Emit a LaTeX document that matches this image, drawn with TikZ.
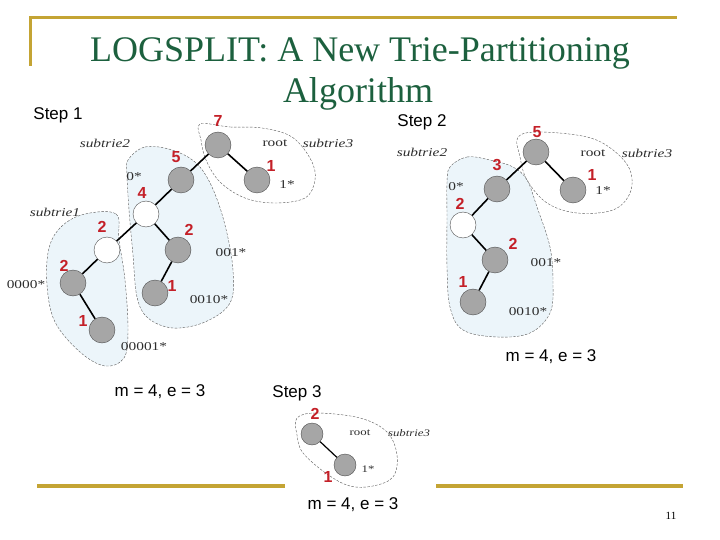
\documentclass[tikz,border=0pt]{standalone}
\usepackage{fontspec}
\setmainfont{Liberation Serif}
\setsansfont{Liberation Sans}
\newfontfamily\widefont[FakeStretch=1.28]{Liberation Serif}
\usepackage{tikz}
\usetikzlibrary{backgrounds}

\definecolor{titlegreen}{RGB}{28,96,62}
\definecolor{gold}{RGB}{196,164,52}
\definecolor{cntred}{RGB}{196,32,40}
\definecolor{blobblue}{RGB}{236,245,250}
\definecolor{labelgray}{RGB}{45,45,45}

\begin{document}
\begin{tikzpicture}[
    x=1pt, y=-1pt,
    filled/.style={circle, draw=black!70, fill=black!35, minimum size=26pt, inner sep=0pt},
    hollow/.style={circle, draw=black!70, fill=white, minimum size=26pt, inner sep=0pt},
    cnt/.style={text=cntred, font=\sffamily\bfseries\fontsize{16}{16}\selectfont, inner sep=0pt},
    lbl/.style={text=labelgray, font=\widefont\fontsize{12}{12}\selectfont, inner sep=0pt},
    sub/.style={text=labelgray, font=\widefont\itshape\fontsize{12}{12}\selectfont, inner sep=0pt},
    caption/.style={font=\sffamily\fontsize{17}{17}\selectfont, inner sep=0pt},
    blob/.style={draw=black!65, dash pattern=on 2.5pt off 1.5pt, thin, fill=#1},
    blob/.default=white,
    link/.style={line width=1.6pt}
]
    \useasboundingbox (0,0) rectangle (720,540);

    % Slide frame
    \draw[gold, line width=3pt] (30,66) -- (30,18) -- (677,18);
    \draw[gold, line width=4pt] (37,486) -- (285,486);
    \draw[gold, line width=4pt] (436,486) -- (683,486);

    % Title
    \node[text=titlegreen, font=\fontsize{36}{36}\selectfont, anchor=base] (title1) at (360,62) {LOGSPLIT: A New Trie-Partitioning};
    \node[text=titlegreen, font=\fontsize{36}{36}\selectfont, anchor=base] (title2) at (358,103) {Algorithm};

    % ---------------- Step 1 ----------------
    \node[caption] (step1) at (58,115) {Step 1};

    % subtries
    \draw[blob] plot[smooth cycle, tension=0.6] coordinates {(200,124) (230,127) (262,128) (292,137) (311,160) (315,180) (305,198) (275,203) (245,198) (220,182) (206,160) (201,140)};
    \draw[blob=blobblue] plot[smooth cycle, tension=0.6] coordinates {(128,160) (145,147) (172,150) (196,163) (212,187) (225,225) (233,270) (230,303) (205,322) (173,328) (148,318) (137,297) (133,255) (129,210) (127,175)};
    \draw[blob=blobblue] plot[smooth cycle, tension=0.6] coordinates {(85,214) (116,214) (119,240) (125,280) (128,330) (124,358) (105,366) (80,352) (55,322) (47,285) (49,248) (62,226)};

    % trie
    \node[filled] (aroot) at (218,145) {};
    \node[filled] (a1) at (257,180) {};
    \node[filled] (a0) at (181,180) {};
    \node[hollow] (a00) at (146,214) {};
    \node[hollow] (a000) at (107,250) {};
    \node[filled] (a0000) at (73,283) {};
    \node[filled] (a00001) at (102,330) {};
    \node[filled] (a001) at (178,250) {};
    \node[filled] (a0010) at (155,293) {};

    \draw[link] (aroot) -- (a1);
    \draw[link] (aroot) -- (a0);
    \draw[link] (a0) -- (a00);
    \draw[link] (a00) -- (a000);
    \draw[link] (a00) -- (a001);
    \draw[link] (a000) -- (a0000);
    \draw[link] (a0000) -- (a00001);
    \draw[link] (a001) -- (a0010);

    % counts
    \node[cnt] (na-root) at (218,121) {7};
    \node[cnt] (na1) at (271,166) {1};
    \node[cnt] (na0) at (176,157) {5};
    \node[cnt] (na00) at (142,193) {4};
    \node[cnt] (na000) at (102,227) {2};
    \node[cnt] (na001) at (189,230) {2};
    \node[cnt] (na0000) at (64,266) {2};
    \node[cnt] (na0010) at (172,286) {1};
    \node[cnt] (na00001) at (83,321) {1};

    % prefixes
    \node[sub] (la-sub2) at (105,143) {subtrie2};
    \node[lbl] (la-root) at (275,143) {root};
    \node[sub] (la-sub3) at (328,143) {subtrie3};
    \node[lbl] (la0) at (134,177) {0*};
    \node[sub] (la-sub1) at (55,212) {subtrie1};
    \node[lbl] (la1) at (287,185) {1*};
    \node[lbl] (la001) at (231,253) {001*};
    \node[lbl] (la0000) at (26,285) {0000*};
    \node[lbl] (la0010) at (209,300) {0010*};
    \node[lbl] (la00001) at (144,347) {00001*};

    \node[caption] (cap1) at (160,392) {m = 4, e = 3};

    % ---------------- Step 2 ----------------
    \node[caption] (step2) at (422,122) {Step 2};

    \draw[blob] plot[smooth cycle, tension=0.6] coordinates {(518,137) (540,132) (587,137) (613,150) (630,170) (630,193) (613,210) (577,213) (547,203) (527,180) (520,157)};
    \draw[blob=blobblue] plot[smooth cycle, tension=0.6] coordinates {(450,167) (467,157) (490,160) (513,167) (527,180) (537,207) (550,247) (553,283) (550,313) (530,333) (497,337) (463,330) (450,307) (447,267) (447,217) (447,183)};

    \node[filled] (broot) at (536,152) {};
    \node[filled] (b1) at (573,190) {};
    \node[filled] (b0) at (497,189) {};
    \node[hollow] (b00) at (463,225) {};
    \node[filled] (b001) at (495,260) {};
    \node[filled] (b0010) at (473,302) {};

    \draw[link] (broot) -- (b1);
    \draw[link] (broot) -- (b0);
    \draw[link] (b0) -- (b00);
    \draw[link] (b00) -- (b001);
    \draw[link] (b001) -- (b0010);

    \node[cnt] (nb-root) at (537,132) {5};
    \node[cnt] (nb1) at (592,175) {1};
    \node[cnt] (nb0) at (497,165) {3};
    \node[cnt] (nb00) at (460,204) {2};
    \node[cnt] (nb001) at (513,244) {2};
    \node[cnt] (nb0010) at (463,282) {1};

    \node[sub] (lb-sub2) at (422,152) {subtrie2};
    \node[lbl] (lb-root) at (593,153) {root};
    \node[sub] (lb-sub3) at (647,153) {subtrie3};
    \node[lbl] (lb0) at (456,187) {0*};
    \node[lbl] (lb1) at (603,191) {1*};
    \node[lbl] (lb001) at (546,263) {001*};
    \node[lbl] (lb0010) at (528,312) {0010*};

    \node[caption] (cap2) at (551,357) {m = 4, e = 3};

    % ---------------- Step 3 ----------------
    \node[caption] (step3) at (297,393) {Step 3};

    \draw[blob] plot[smooth cycle, tension=0.6] coordinates {(297,418) (317,413) (360,418) (387,432) (397,455) (393,477) (373,486) (350,486) (327,474) (303,453) (297,435)};

    \node[filled, minimum size=22pt] (croot) at (312,434) {};
    \node[filled, minimum size=22pt] (c1) at (345,465) {};
    \draw[link, line width=1.2pt] (croot) -- (c1);

    \node[cnt] (nc-root) at (315,414) {2};
    \node[cnt] (nc1) at (328,477) {1};

    \node[lbl, font=\widefont\fontsize{10}{10}\selectfont] (lc-root) at (360,433) {root};
    \node[sub, font=\widefont\itshape\fontsize{10}{10}\selectfont] (lc-sub3) at (409,433) {subtrie3};
    \node[lbl, font=\widefont\fontsize{10}{10}\selectfont] (lc1) at (368,469) {1*};

    \node[caption] (cap3) at (353,505) {m = 4, e = 3};

    % page number
    \node[font=\fontsize{11}{11}\selectfont] (pageno) at (671,516) {11};
\end{tikzpicture}
\end{document}
